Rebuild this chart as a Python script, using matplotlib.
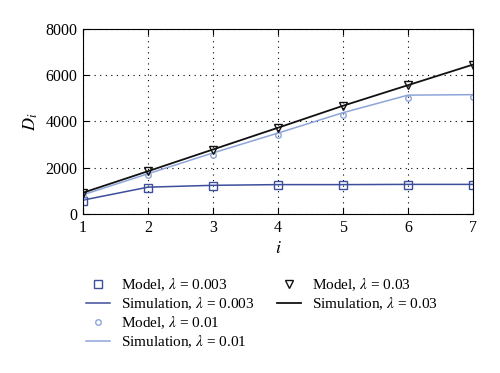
import matplotlib
matplotlib.use("Agg")
import matplotlib.pyplot as plt

plt.rcParams['font.family'] = ['Liberation Serif', 'DejaVu Serif']
plt.rcParams['mathtext.fontset'] = 'stix'

i_vals = [1, 2, 3, 4, 5, 6, 7]
model_003 = [580, 1140, 1220, 1250, 1250, 1250, 1260]
sim_003 = [600, 1160, 1240, 1270, 1270, 1280, 1280]
model_01 = [780, 1700, 2570, 3430, 4280, 5030, 5060]
sim_01 = [830, 1740, 2640, 3500, 4380, 5140, 5160]
model_03 = [900, 1840, 2780, 3720, 4670, 5560, 6450]
sim_03 = [920, 1850, 2790, 3730, 4680, 5570, 6460]

x_ticks = [1, 2, 3, 4, 5, 6, 7]
y_ticks = [0, 2000, 4000, 6000, 8000]

c_dark = '#3d4e9c'
c_light = '#8ea5d9'
c_black = '#111111'

fig = plt.figure(figsize=(5, 3.73), dpi=100)
ax = fig.add_axes([0.166, 0.4263, 0.78, 0.496])

h_m003, = ax.plot(i_vals, model_003, linestyle='none', marker='s', ms=6,
                  mfc='none', mec=c_dark, mew=1.0, label=r'Model, $\lambda$ = 0.003')
h_s003, = ax.plot(i_vals, sim_003, color=c_dark, lw=1.1, label=r'Simulation, $\lambda$ = 0.003')
h_m01, = ax.plot(i_vals, model_01, linestyle='none', marker='o', ms=4,
                 mfc='none', mec=c_light, mew=1.0, label=r'Model, $\lambda$ = 0.01')
h_s01, = ax.plot(i_vals, sim_01, color=c_light, lw=1.1, label=r'Simulation, $\lambda$ = 0.01')
h_m03, = ax.plot(i_vals, model_03, linestyle='none', marker='v', ms=6,
                 mfc='none', mec=c_black, mew=1.0, label=r'Model, $\lambda$ = 0.03')
h_s03, = ax.plot(i_vals, sim_03, color=c_black, lw=1.3, label=r'Simulation, $\lambda$ = 0.03')

ax.set_xlim(1, 7)
ax.set_ylim(0, 8000)
ax.set_xticks(x_ticks)
ax.set_yticks(y_ticks)
ax.tick_params(direction='in', top=True, right=True, labelsize=11.5, length=4, pad=4)
ax.grid(True, color='black', linestyle=(0, (1, 4)), lw=0.8)
for s in ax.spines.values():
    s.set_linewidth(0.8)

ax.set_xlabel(r'$i$', fontsize=13, labelpad=3)
ax.set_ylabel(r'$D_i$', fontsize=13, labelpad=4)

leg_kw = dict(frameon=False, fontsize=11, handlelength=1.6, handletextpad=0.7,
              labelspacing=0.15, borderaxespad=0, borderpad=0)
l1 = fig.legend(handles=[h_m003, h_s003, h_m01, h_s01], loc='upper left',
                bbox_to_anchor=(0.172, 0.258), **leg_kw)
l2 = fig.legend(handles=[h_m03, h_s03], loc='upper left',
                bbox_to_anchor=(0.553, 0.258), **leg_kw)

fig.savefig('out.png', dpi=100)
